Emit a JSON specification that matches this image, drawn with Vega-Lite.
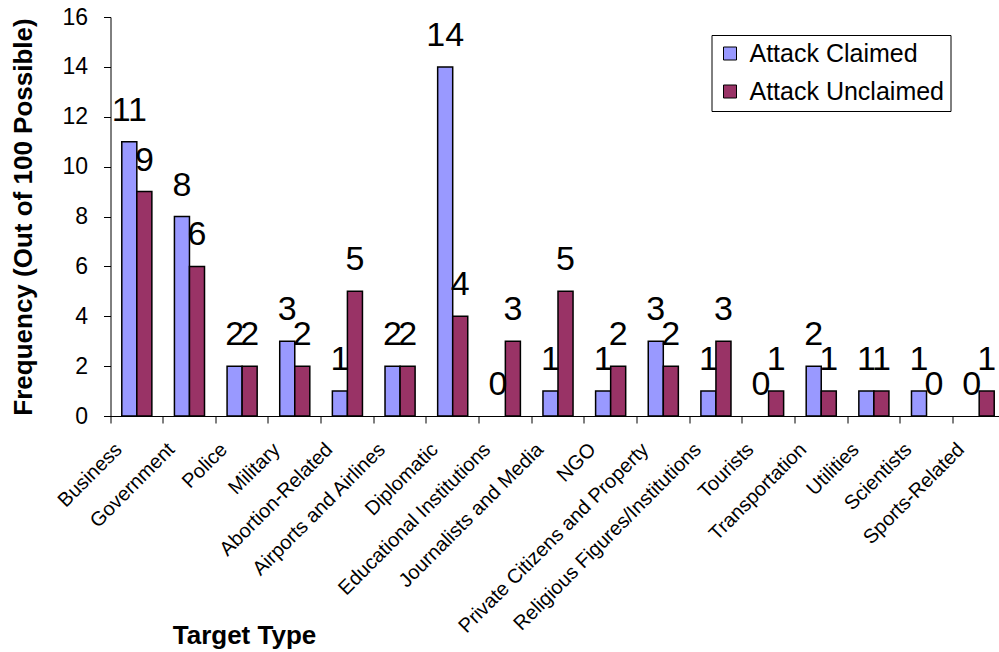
{
  "$schema": "https://vega.github.io/schema/vega-lite/v6.json",
  "autosize": {"type": "none"},
  "padding": {"left": 110.5, "top": 17, "right": 0, "bottom": 236},
  "width": 888.5,
  "height": 399,
  "background": "white",
  "config": {
    "font": "Liberation Sans",
    "view": {"stroke": null}
  },
  "data": {
    "values": [
      {"target": "Business", "type": "Attack Claimed", "value": 11},
      {"target": "Business", "type": "Attack Unclaimed", "value": 9},
      {"target": "Government", "type": "Attack Claimed", "value": 8},
      {"target": "Government", "type": "Attack Unclaimed", "value": 6},
      {"target": "Police", "type": "Attack Claimed", "value": 2},
      {"target": "Police", "type": "Attack Unclaimed", "value": 2},
      {"target": "Military", "type": "Attack Claimed", "value": 3},
      {"target": "Military", "type": "Attack Unclaimed", "value": 2},
      {"target": "Abortion-Related", "type": "Attack Claimed", "value": 1},
      {"target": "Abortion-Related", "type": "Attack Unclaimed", "value": 5},
      {"target": "Airports and Airlines", "type": "Attack Claimed", "value": 2},
      {"target": "Airports and Airlines", "type": "Attack Unclaimed", "value": 2},
      {"target": "Diplomatic", "type": "Attack Claimed", "value": 14},
      {"target": "Diplomatic", "type": "Attack Unclaimed", "value": 4},
      {"target": "Educational Institutions", "type": "Attack Claimed", "value": 0},
      {"target": "Educational Institutions", "type": "Attack Unclaimed", "value": 3},
      {"target": "Journalists and Media", "type": "Attack Claimed", "value": 1},
      {"target": "Journalists and Media", "type": "Attack Unclaimed", "value": 5},
      {"target": "NGO", "type": "Attack Claimed", "value": 1},
      {"target": "NGO", "type": "Attack Unclaimed", "value": 2},
      {"target": "Private Citizens and Property", "type": "Attack Claimed", "value": 3},
      {"target": "Private Citizens and Property", "type": "Attack Unclaimed", "value": 2},
      {"target": "Religious Figures/Institutions", "type": "Attack Claimed", "value": 1},
      {"target": "Religious Figures/Institutions", "type": "Attack Unclaimed", "value": 3},
      {"target": "Tourists", "type": "Attack Claimed", "value": 0},
      {"target": "Tourists", "type": "Attack Unclaimed", "value": 1},
      {"target": "Transportation", "type": "Attack Claimed", "value": 2},
      {"target": "Transportation", "type": "Attack Unclaimed", "value": 1},
      {"target": "Utilities", "type": "Attack Claimed", "value": 1},
      {"target": "Utilities", "type": "Attack Unclaimed", "value": 1},
      {"target": "Scientists", "type": "Attack Claimed", "value": 1},
      {"target": "Scientists", "type": "Attack Unclaimed", "value": 0},
      {"target": "Sports-Related", "type": "Attack Claimed", "value": 0},
      {"target": "Sports-Related", "type": "Attack Unclaimed", "value": 1}
    ]
  },
  "encoding": {
    "x": {
      "field": "target",
      "type": "nominal",
      "sort": null,
      "scale": {"paddingInner": 0, "paddingOuter": 0, "range": [0, 895]},
      "axis": {
        "title": "Target Type",
        "titleFont": "Liberation Sans",
        "titleFontSize": 26,
        "titleFontWeight": "bold",
        "titleColor": "black",
        "titleX": 133.5,
        "titleY": 227,
        "titleAlign": "center",
        "titleBaseline": "alphabetic",
        "titleAnchor": null,
        "bandPosition": 0,
        "labelOffset": -25,
        "labelAngle": -45,
        "labelAlign": "right",
        "labelBaseline": "top",
        "labelPadding": 16,
        "labelFontSize": 20,
        "labelColor": "black",
        "labelOverlap": false,
        "labelLimit": 0,
        "domainColor": "black",
        "tickColor": "black",
        "tickSize": 7,
        "ticks": true
      }
    },
    "xOffset": {
      "field": "type",
      "type": "nominal",
      "scale": {"paddingInner": 0, "paddingOuter": 0.75}
    },
    "y": {
      "field": "value",
      "type": "quantitative",
      "scale": {"domain": [0, 16], "nice": false},
      "axis": {
        "values": [0, 2, 4, 6, 8, 10, 12, 14, 16],
        "grid": false,
        "title": "Frequency (Out of 100 Possible)",
        "titleFont": "Liberation Sans",
        "titleFontSize": 26,
        "titleFontWeight": "bold",
        "titleColor": "black",
        "titleAngle": -90,
        "titleX": -79,
        "titleY": 199.5,
        "titleAlign": "center",
        "titleBaseline": "alphabetic",
        "titleAnchor": null,
        "labelFontSize": 23,
        "labelColor": "black",
        "labelPadding": 16,
        "domainColor": "black",
        "tickColor": "black",
        "tickSize": 7
      }
    }
  },
  "layer": [
    {
      "transform": [{"filter": "datum.value > 0"}],
      "mark": {"type": "bar", "stroke": "black", "strokeWidth": 1.5},
      "encoding": {
        "color": {
          "field": "type",
          "type": "nominal",
          "scale": {"domain": ["Attack Claimed", "Attack Unclaimed"], "range": ["#9999FF", "#993366"]},
          "legend": {
            "title": null,
            "orient": "none",
            "legendX": 601,
            "legendY": 18,
            "strokeColor": "black",
            "fillColor": "white",
            "padding": 6,
            "symbolType": "square",
            "symbolSize": 169,
            "symbolStrokeColor": "black",
            "symbolStrokeWidth": 1,
            "labelFontSize": 25,
            "labelColor": "black",
            "labelLimit": 0,
            "rowPadding": 12,
            "labelOffset": 7
          }
        }
      }
    },
    {
      "mark": {"type": "text", "fontSize": 34, "baseline": "alphabetic", "align": "center", "dy": -21, "color": "black"},
      "encoding": {
        "text": {"field": "value", "type": "quantitative"}
      }
    }
  ]
}
